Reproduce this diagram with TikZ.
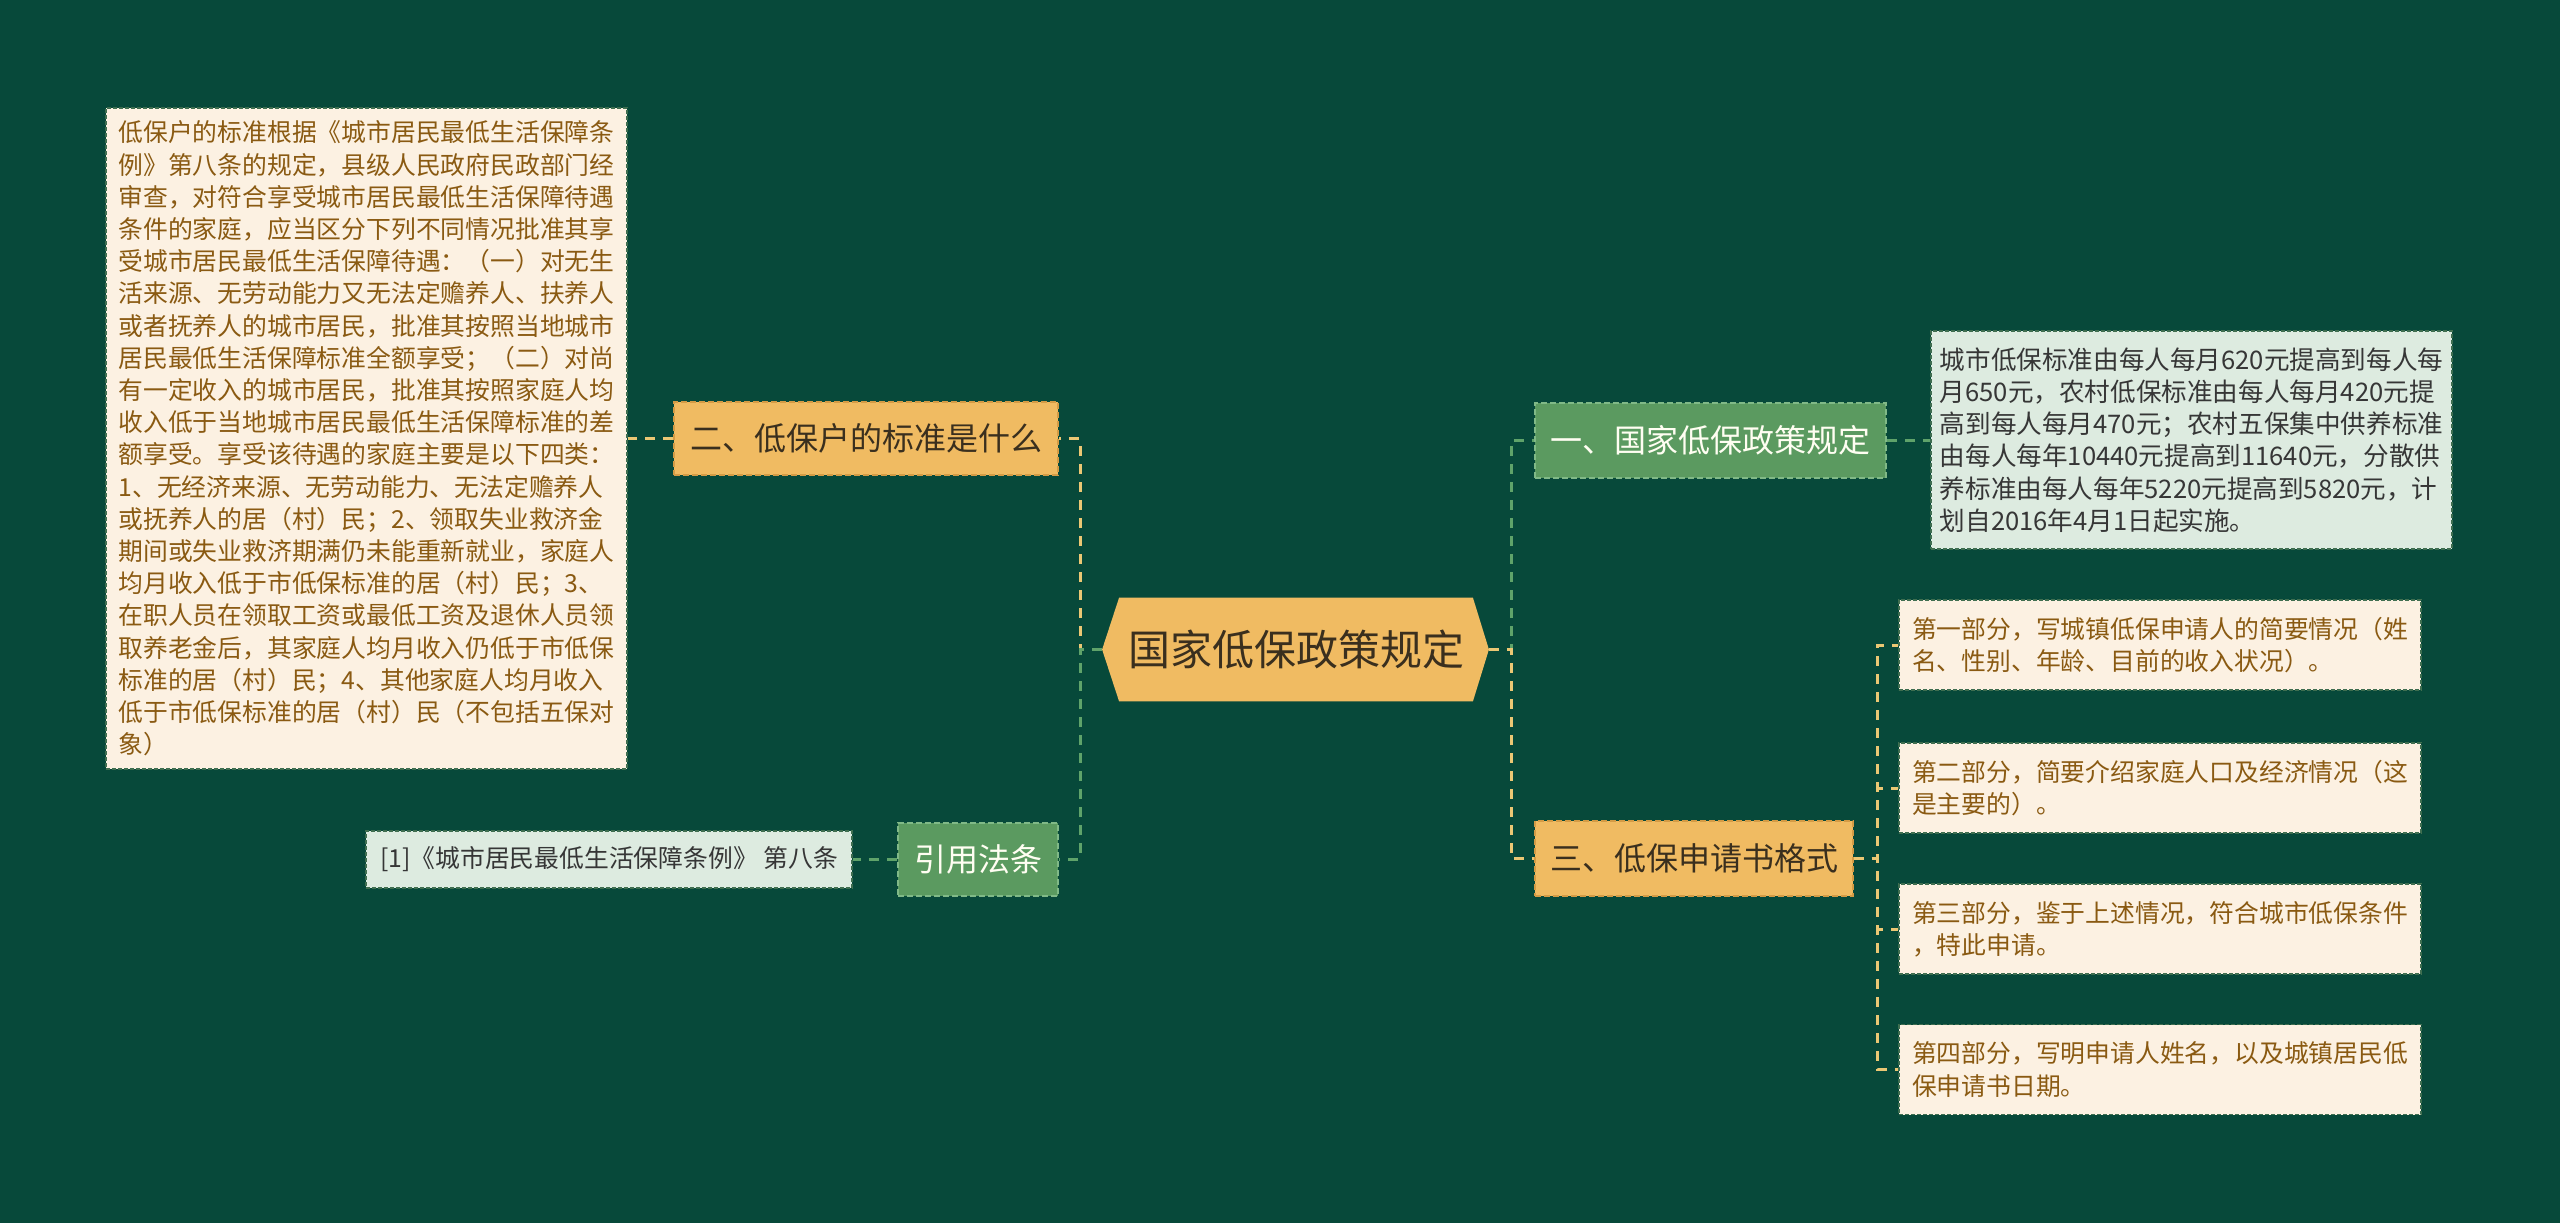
\documentclass[tikz,border=0pt]{standalone}
\usepackage{fontspec}
\newfontfamily\cjk{Noto Sans CJK SC}
\usetikzlibrary{backgrounds}
\definecolor{bg}{HTML}{07493A}
\definecolor{org}{HTML}{F0BB62}
\definecolor{orgline}{HTML}{D49B45}
\definecolor{grn}{HTML}{5B9A60}
\definecolor{grnline}{HTML}{80B987}
\definecolor{cream}{HTML}{FCF1E2}
\definecolor{lgrn}{HTML}{DDEBE0}
\definecolor{browntxt}{HTML}{8A5A12}
\definecolor{darktxt}{HTML}{3A2F1E}
\definecolor{graytxt}{HTML}{363636}
\definecolor{ylink}{HTML}{EBC774}
\definecolor{glink}{HTML}{5FA36A}
\definecolor{boxline}{HTML}{3F6E50}
\begin{document}
\begin{tikzpicture}[x=0.5pt,y=-0.5pt,
  every node/.style={font=\cjk, inner sep=0pt},
  orgnode/.style={fill=org, draw=orgline, dash pattern=on 3pt off 1.5pt, line width=0.8pt, text=darktxt, font=\cjk\fontsize{16}{20}\selectfont},
  grnnode/.style={fill=grn, draw=grnline, dash pattern=on 3pt off 1.5pt, line width=0.8pt, text=white!95!yellow, font=\cjk\fontsize{16}{20}\selectfont},
  creambox/.style={fill=cream, draw=boxline, dash pattern=on 2pt off 1pt, line width=0.7pt, text=browntxt, align=left, font=\cjk\fontsize{12.4}{16.1}\selectfont},
  lgrnbox/.style={fill=lgrn, draw=boxline, dash pattern=on 2pt off 1pt, line width=0.7pt, text=graytxt, align=left, font=\cjk\fontsize{12.4}{16.1}\selectfont},
  ylk/.style={draw=ylink, line width=1.5pt, dash pattern=on 5pt off 4pt},
  glk/.style={draw=glink, line width=1.5pt, dash pattern=on 5pt off 4pt}
]
\useasboundingbox (0,0) rectangle (2560,1223);
\begin{scope}[on background layer]
\fill[bg] (0,0) rectangle (2560,1223);
\end{scope}

% central node
\node[minimum width=176.5pt, minimum height=51.5pt, text=darktxt, font=\cjk\fontsize{21}{25}\selectfont] (c) at (1296,649.5) {国家低保政策规定};
\begin{scope}[on background layer]
\fill[org] (c.north west) -- (c.north east) -- ([xshift=8pt]c.east) -- (c.south east) -- (c.south west) -- ([xshift=-8.5pt]c.west) -- cycle;
\end{scope}
\coordinate (cw) at ([xshift=-8.5pt]c.west);
\coordinate (ce) at ([xshift=8pt]c.east);

% main branch nodes
\node[orgnode, minimum width=192pt, minimum height=36.5pt] (n2) at (866,438.5) {二、低保户的标准是什么};
\node[grnnode, minimum width=80pt, minimum height=36.5pt] (nf) at (978,859.5) {引用法条};
\node[grnnode, minimum width=175.5pt, minimum height=37.5pt] (n1) at (1710.5,440.5) {一、国家低保政策规定};
\node[orgnode, minimum width=159pt, minimum height=37.5pt] (n3) at (1694,858.5) {三、低保申请书格式};

% leaves
\node[creambox, minimum width=260.5pt, minimum height=330.5pt] (L) at (366.5,438.5) {低保户的标准根据《城市居民最低生活保障条\\例》第八条的规定，县级人民政府民政部门经\\审查，对符合享受城市居民最低生活保障待遇\\条件的家庭，应当区分下列不同情况批准其享\\受城市居民最低生活保障待遇：（一）对无生\\活来源、无劳动能力又无法定赡养人、扶养人\\或者抚养人的城市居民，批准其按照当地城市\\居民最低生活保障标准全额享受；（二）对尚\\有一定收入的城市居民，批准其按照家庭人均\\收入低于当地城市居民最低生活保障标准的差\\额享受。享受该待遇的家庭主要是以下四类：\\1、无经济来源、无劳动能力、无法定赡养人\\或抚养人的居（村）民；2、领取失业救济金\\期间或失业救济期满仍未能重新就业，家庭人\\均月收入低于市低保标准的居（村）民；3、\\在职人员在领取工资或最低工资及退休人员领\\取养老金后，其家庭人均月收入仍低于市低保\\标准的居（村）民；4、其他家庭人均月收入\\低于市低保标准的居（村）民（不包括五保对\\象）};
\node[lgrnbox, minimum width=243pt, minimum height=28.5pt] (ref) at (609,859.5) {[1]《城市居民最低生活保障条例》 第八条};
\node[lgrnbox, minimum width=260.5pt, minimum height=109pt, font=\cjk\fontsize{12.8}{16.1}\selectfont] (R1) at (2191.5,440) {城市低保标准由每人每月620元提高到每人每\\月650元，农村低保标准由每人每月420元提\\高到每人每月470元；农村五保集中供养标准\\由每人每年10440元提高到11640元，分散供\\养标准由每人每年5220元提高到5820元，计\\划自2016年4月1日起实施。};
\node[creambox, minimum width=261pt, minimum height=45pt] (B1) at (2160,645) {第一部分，写城镇低保申请人的简要情况（姓\\名、性别、年龄、目前的收入状况）。};
\node[creambox, minimum width=261pt, minimum height=45pt] (B2) at (2160,788) {第二部分，简要介绍家庭人口及经济情况（这\\是主要的）。};
\node[creambox, minimum width=261pt, minimum height=45pt] (B3) at (2160,929) {第三部分，鉴于上述情况，符合城市低保条件\\，特此申请。};
\node[creambox, minimum width=261pt, minimum height=45pt] (B4) at (2160,1069.5) {第四部分，写明申请人姓名，以及城镇居民低\\保申请书日期。};

% junctions
\coordinate (jl) at (1080,649.5);
\coordinate (jr) at (1511,649.5);
\coordinate (j3) at (1877,858.5);

% connectors
\draw[ylk] (cw) -- (jl) |- (n2.east);
\draw[glk] (cw) -- (jl) |- (nf.east);
\draw[glk] (ce) -- (jr) |- (n1.west);
\draw[ylk] (ce) -- (jr) |- (n3.west);
\draw[ylk] (n2.west) -- (L.east |- n2.west);
\draw[glk] (nf.west) -- (ref.east |- nf.west);
\draw[glk] (n1.east) -- (R1.west |- n1.east);
\draw[ylk] (n3.east) -- (j3) |- (B1.west);
\draw[ylk] (n3.east) -- (j3) |- (B2.west);
\draw[ylk] (n3.east) -- (j3) |- (B3.west);
\draw[ylk] (n3.east) -- (j3) |- (B4.west);
\end{tikzpicture}
\end{document}
